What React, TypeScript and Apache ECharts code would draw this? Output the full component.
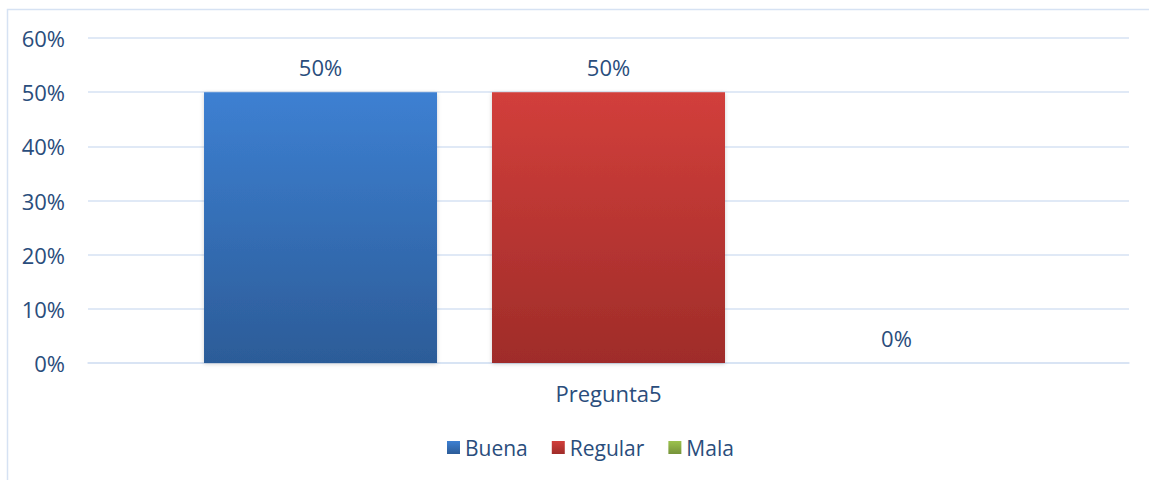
import React, { useEffect, useRef } from "react";
import * as echarts from "echarts";

const categories = ["Pregunta5"];
const seriesNames = ["Buena", "Regular", "Mala"];
const seriesValues = [[50], [50], [0]];
const yTicks = [0, 10, 20, 30, 40, 50, 60];

const colorStops: [string, string][] = [
  ["#3d80d2", "#2c5c98"],
  ["#d23f3b", "#9f2c29"],
  ["#9cc24d", "#76933a"],
];

const textColor = "#2a4d7c";
const gridColor = "#d6e2f3";

export default function App() {
  const ref = useRef<HTMLDivElement>(null);
  useEffect(() => {
    if (!ref.current) return;
    const chart = echarts.init(ref.current, undefined, { renderer: "svg" });
    const grad = (c: [string, string]) =>
      new echarts.graphic.LinearGradient(0, 0, 0, 1, [
        { offset: 0, color: c[0] },
        { offset: 1, color: c[1] },
      ]);
    chart.setOption({
      animation: false,
      textStyle: { fontFamily: "Open Sans" },
      graphic: [
        {
          type: "rect",
          shape: { x: 7.5, y: 9.5, width: 1200, height: 520 },
          style: { fill: "none", stroke: gridColor, lineWidth: 1.5 },
          silent: true,
        },
      ],
      grid: { left: 88, right: 20, top: 38, bottom: 117 },
      legend: {
        top: 432,
        left: 442,
        itemWidth: 13,
        itemHeight: 13,
        itemGap: 24,
        icon: "rect",
        textStyle: { color: textColor, fontSize: 21, fontFamily: "Open Sans" },
        data: seriesNames,
      },
      xAxis: {
        type: "category",
        data: categories,
        axisLine: { lineStyle: { color: gridColor, width: 1.5 } },
        axisTick: { show: false },
        axisLabel: { color: textColor, fontSize: 22, margin: 19 },
      },
      yAxis: {
        type: "value",
        min: yTicks[0],
        max: yTicks[yTicks.length - 1],
        interval: 10,
        axisLine: { show: false },
        axisTick: { show: false },
        splitLine: { lineStyle: { color: gridColor, width: 1.5 } },
        axisLabel: { color: textColor, fontSize: 22, margin: 23, formatter: "{value}%" },
      },
      series: seriesNames.map((name, i) => ({
        name,
        type: "bar",
        data: seriesValues[i],
        barWidth: 233,
        barGap: "23.6%",
        itemStyle: {
          color: grad(colorStops[i]),
          shadowBlur: 4,
          shadowColor: "rgba(0,0,0,0.18)",
          shadowOffsetY: 1,
        },
        label: {
          show: true,
          position: "top",
          distance: 14,
          formatter: "{c}%",
          color: textColor,
          fontSize: 22,
        },
      })),
    });
    return () => chart.dispose();
  }, []);
  return (
    <div
      ref={ref}
      style={{ position: "absolute", left: 0, top: 0, width: 1149, height: 480 }}
    />
  );
}
